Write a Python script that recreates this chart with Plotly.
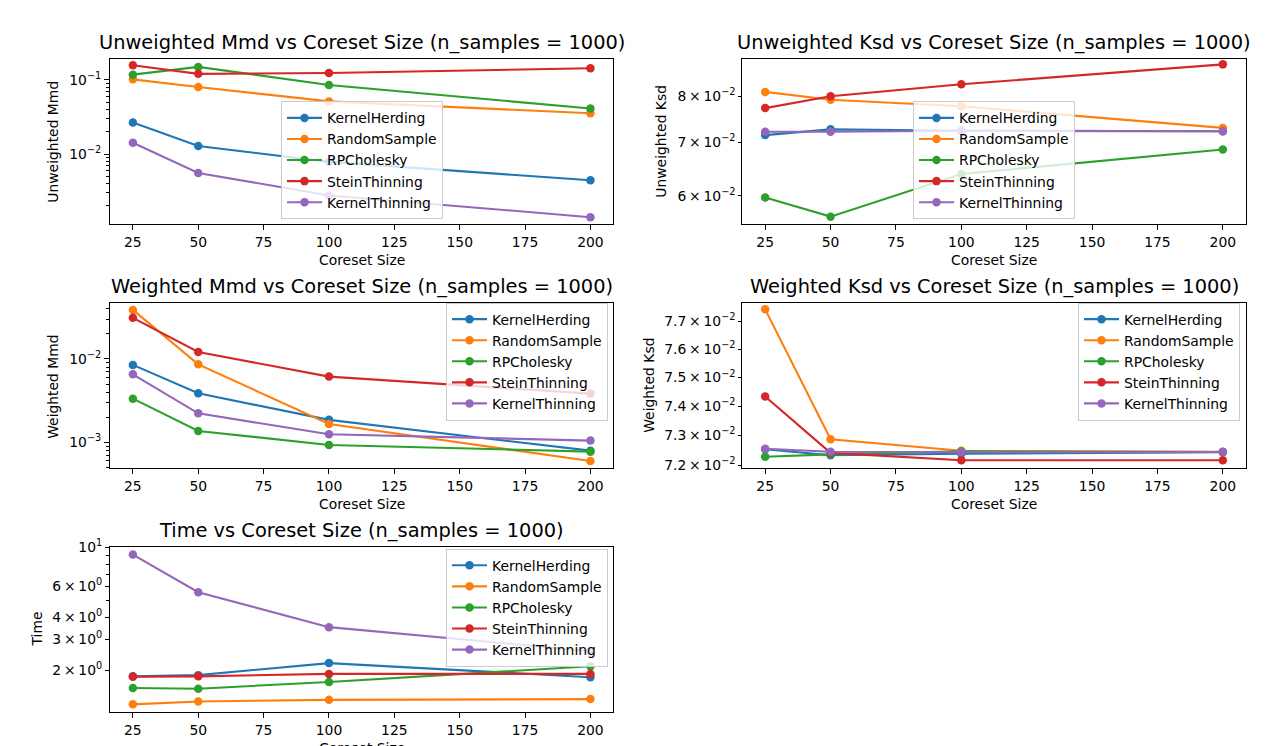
import plotly.graph_objects as go

W, H = 1283, 746
# observed vertical placement of the page: px = OFF + (1 - paper_y) * H_EFF
OFF, H_EFF = 8.0, 733.0

coreset_sizes = [25, 50, 100, 200]
methods = ["KernelHerding", "RandomSample", "RPCholesky", "SteinThinning", "KernelThinning"]
colors = ["#1f77b4", "#ff7f0e", "#2ca02c", "#d62728", "#9467bd"]

# values per method, in the order of `methods`
unweighted_mmd = [
    [0.0266, 0.01285, 0.00785, 0.00443],
    [0.102, 0.0803, 0.0514, 0.0356],
    [0.118, 0.150, 0.0855, 0.0412],
    [0.158, 0.121, 0.124, 0.144],
    [0.01425, 0.00557, 0.00277, 0.00141],
]
unweighted_ksd = [
    [0.0715, 0.0727, 0.0724, 0.0723],
    [0.0810, 0.0792, 0.0777, 0.0730],
    [0.0597, 0.0565, 0.0639, 0.0686],
    [0.0773, 0.0800, 0.0828, 0.0877],
    [0.0722, 0.0722, 0.0724, 0.0723],
]
weighted_mmd = [
    [0.00848, 0.00387, 0.00186, 0.000795],
    [0.0387, 0.00861, 0.00166, 0.000598],
    [0.00334, 0.00137, 0.000931, 0.000774],
    [0.0311, 0.0121, 0.00614, 0.00384],
    [0.00654, 0.00223, 0.00125, 0.00105],
]
weighted_ksd = [
    [0.07253, 0.07233, 0.07238, 0.07243],
    [0.07742, 0.07287, 0.07248, 0.07245],
    [0.07228, 0.07236, 0.07246, 0.07244],
    [0.07434, 0.07241, 0.07216, 0.07216],
    [0.07255, 0.07245, 0.07243, 0.07244],
]
time_values = [
    [1.85, 1.88, 2.20, 1.83],
    [1.283, 1.333, 1.361, 1.374],
    [1.588, 1.574, 1.72, 2.11],
    [1.84, 1.85, 1.91, 1.91],
    [9.09, 5.56, 3.52, 2.57],
]

x_ticks = [25, 50, 75, 100, 125, 150, 175, 200]


def py(px):
    return 1 - (px - OFF) / H_EFF


TSP = "\u2009×\u2009"
panels = [
    dict(title="Unweighted Mmd vs Coreset Size (n_samples = 1000)", ylabel="Unweighted Mmd",
         data=unweighted_mmd, box=(110, 613.3, 57.5, 222.3), yrange=[-2.943, -0.723],
         tickvals=[0.01, 0.1], ticktext=["10<sup>−2</sup>", "10<sup>−1</sup>"],
         minor=[k * 1e-3 for k in range(2, 10)] + [k * 1e-2 for k in range(2, 10)],
         ticklen=5, ylab_x=53, legend_pos=(281, 99.5)),
    dict(title="Unweighted Ksd vs Coreset Size (n_samples = 1000)", ylabel="Unweighted Ksd",
         data=unweighted_ksd, box=(742.3, 1245.7, 57.5, 222.3), yrange=[-1.2572, -1.0508],
         tickvals=[0.06, 0.07, 0.08],
         ticktext=["6" + TSP + "10<sup>−2</sup>", "7" + TSP + "10<sup>−2</sup>", "8" + TSP + "10<sup>−2</sup>"],
         minor=[], ticklen=3, ylab_x=661, legend_pos=(913, 99.5)),
    dict(title="Weighted Mmd vs Coreset Size (n_samples = 1000)", ylabel="Weighted Mmd",
         data=weighted_mmd, box=(110, 613.3, 301.7, 467), yrange=[-3.312, -1.333],
         tickvals=[0.001, 0.01], ticktext=["10<sup>−3</sup>", "10<sup>−2</sup>"],
         minor=[k * 1e-4 for k in range(5, 10)] + [k * 1e-3 for k in range(2, 10)] + [k * 1e-2 for k in range(2, 5)],
         ticklen=5, ylab_x=53, legend_pos=(446, 301)),
    dict(title="Weighted Ksd vs Coreset Size (n_samples = 1000)", ylabel="Weighted Ksd",
         data=weighted_ksd, box=(742.3, 1245.7, 301.7, 467), yrange=[-1.14334, -1.10992],
         tickvals=[0.072, 0.073, 0.074, 0.075, 0.076, 0.077],
         ticktext=[f"7.{d}" + TSP + "10<sup>−2</sup>" for d in range(2, 8)],
         minor=[], ticklen=3, ylab_x=649, legend_pos=(1078, 301)),
    dict(title="Time vs Coreset Size (n_samples = 1000)", ylabel="Time",
         data=time_values, box=(110, 613.3, 545.7, 711), yrange=[0.0646, 1.0017],
         tickvals=[2, 3, 4, 6, 10],
         ticktext=["2" + TSP + "10<sup>0</sup>", "3" + TSP + "10<sup>0</sup>", "4" + TSP + "10<sup>0</sup>",
                   "6" + TSP + "10<sup>0</sup>", "10<sup>1</sup>"],
         minor=[5, 7, 8, 9], ticklen=4, ylab_x=37, legend_pos=(446, 547.5)),
]

FONT = "DejaVu Sans"
fig = go.Figure()
annotations = []
layout = dict(width=W, height=H, margin=dict(l=0, r=0, t=0, b=0),
              paper_bgcolor="white", plot_bgcolor="white",
              font=dict(family=FONT, size=13.9, color="black"))

for i, p in enumerate(panels):
    n = i + 1
    xa = "xaxis" if n == 1 else f"xaxis{n}"
    ya = "yaxis" if n == 1 else f"yaxis{n}"
    xr = "x" if n == 1 else f"x{n}"
    yr = "y" if n == 1 else f"y{n}"
    lg = "legend" if n == 1 else f"legend{n}"
    x0, x1, top, bot = p["box"]
    layout[xa] = dict(domain=[x0 / W, x1 / W], anchor=yr, range=[16.25, 208.75],
                      tickmode="array", tickvals=x_ticks, ticks="outside", ticklen=5,
                      tickwidth=1, tickcolor="black", showline=True, mirror=True,
                      linecolor="black", linewidth=1, showgrid=False, zeroline=False,
                      tickfont=dict(size=13.9, color="black", family=FONT))
    layout[ya] = dict(domain=[py(bot), py(top)], anchor=xr, type="log",
                      range=p["yrange"], tickmode="array", tickvals=p["tickvals"],
                      ticktext=p["ticktext"], ticks="outside", ticklen=p["ticklen"],
                      tickwidth=1, tickcolor="black", showline=True, mirror=True,
                      linecolor="black", linewidth=1, showgrid=False, zeroline=False,
                      tickfont=dict(size=13.9, color="black", family=FONT),
                      minor=dict(tickmode="array", tickvals=p["minor"], ticks="outside",
                                 ticklen=3, tickwidth=0.8, tickcolor="black", showgrid=False))
    lx, ly = p["legend_pos"]
    layout[lg] = dict(x=lx / W, y=py(ly), xanchor="left", yanchor="top",
                      xref="paper", yref="paper", itemwidth=35,
                      bgcolor="rgba(255,255,255,0.8)", bordercolor="#cccccc", borderwidth=1,
                      font=dict(size=13.9, color="black", family=FONT),
                      tracegroupgap=0)
    for m, name in enumerate(methods):
        fig.add_trace(go.Scatter(
            x=coreset_sizes, y=p["data"][m], mode="lines+markers", name=name,
            line=dict(color=colors[m], width=2.1),
            marker=dict(color=colors[m], size=8.5),
            xaxis=xr, yaxis=yr, legend=lg, showlegend=True))
    cx = (x0 + x1) / 2
    annotations.append(dict(text=p["title"], x=cx / W, y=py(top), xref="paper", yref="paper",
                            xanchor="center", yanchor="bottom", yshift=3, showarrow=False,
                            font=dict(size=19.4, color="black", family=FONT)))
    annotations.append(dict(text="Coreset Size", x=cx / W, y=py(bot), xref="paper", yref="paper",
                            xanchor="center", yanchor="middle", yshift=-36, showarrow=False,
                            font=dict(size=13.9, color="black", family=FONT)))
    annotations.append(dict(text=p["ylabel"], x=p["ylab_x"] / W, y=py((top + bot) / 2),
                            xref="paper", yref="paper", xanchor="center", yanchor="middle",
                            textangle=-90, showarrow=False,
                            font=dict(size=13.9, color="black", family=FONT)))

layout["annotations"] = annotations
fig.update_layout(**layout)
fig.write_html("out.html")
